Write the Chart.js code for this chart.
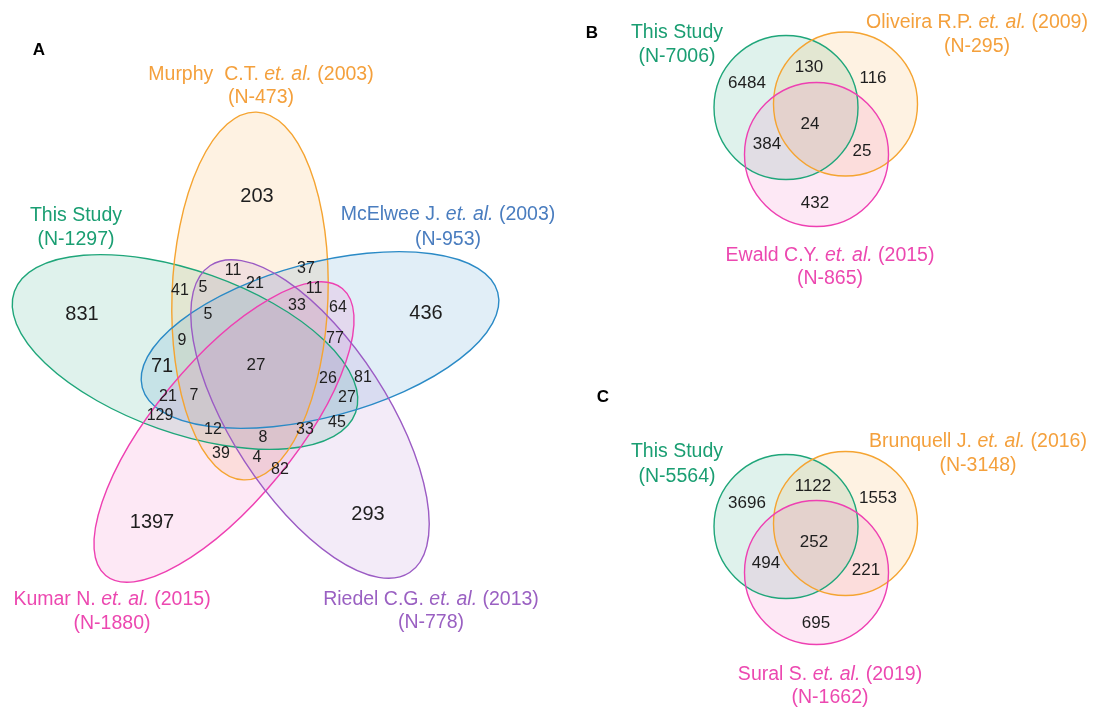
<!DOCTYPE html>
<html>
<head>
<meta charset="utf-8">
<title>Gene set overlaps</title>
<script src="https://cdn.jsdelivr.net/npm/chart.js@4/dist/chart.umd.min.js"></script>
<style>
  html, body { margin: 0; padding: 0; background: #ffffff; }
  canvas { display: block; }
</style>
</head>
<body>
<canvas id="venn" width="1096" height="709"></canvas>
<script>
// ---- Data -------------------------------------------------------------
// Panel A: five gene sets
const panelAStudies = ['This Study', 'Murphy  C.T.', 'McElwee J.', 'Kumar N.', 'Riedel C.G.'];
const panelAYears   = ['', '2003', '2003', '2015', '2013'];
const panelASizes   = [1297, 473, 953, 1880, 778];
const panelACounts  = [831, 203, 436, 1397, 293, 71,
                       11, 37, 41, 5, 21, 11, 33, 64, 5, 9, 77, 27, 26, 81,
                       21, 7, 27, 129, 12, 33, 45, 8, 39, 4, 82];

// Panel B: three gene sets
const panelBStudies = ['This Study', 'Oliveira R.P.', 'Ewald C.Y.'];
const panelBYears   = ['', '2009', '2015'];
const panelBSizes   = [7006, 295, 865];
const panelBCounts  = [6484, 130, 116, 24, 384, 25, 432];

// Panel C: three gene sets
const panelCStudies = ['This Study', 'Brunquell J.', 'Sural S.'];
const panelCYears   = ['', '2016', '2019'];
const panelCSizes   = [5564, 3148, 1662];
const panelCCounts  = [3696, 1122, 1553, 252, 494, 221, 695];

// ---- Layout (positions, sizes, styles) --------------------------------
const FONT = '"Liberation Sans", Arial, Helvetica, sans-serif';

const palette = {
  green:  { stroke: '#1fa67a', fill: 'rgba(31,166,122,0.14)',  text: '#1a9e72' },
  orange: { stroke: '#f5a431', fill: 'rgba(247,166,50,0.14)',  text: '#f4a03c' },
  blue:   { stroke: '#2a8ac6', fill: 'rgba(42,138,198,0.14)',  text: '#4a7dbf' },
  pink:   { stroke: '#ee40b2', fill: 'rgba(240,63,176,0.12)',  text: '#ec48b0' },
  purple: { stroke: '#9b5bc4', fill: 'rgba(155,91,196,0.12)',  text: '#9a60c2' }
};

// ellipse outlines in chart units (cx, cy, rx, ry, rotation in degrees)
const shapesA = [
  { c: 'green',  cx: 185, cy: 352, rx: 181, ry: 81,  rot: 19.5 },
  { c: 'orange', cx: 250, cy: 296, rx: 78,  ry: 184, rot: 2 },
  { c: 'blue',   cx: 320, cy: 340, rx: 184, ry: 77,  rot: -15 },
  { c: 'pink',   cx: 224, cy: 432, rx: 186, ry: 70,  rot: -50.5 },
  { c: 'purple', cx: 310, cy: 419, rx: 183, ry: 78,  rot: 57 }
];
const shapesB = [
  { c: 'green',  cx: 786,   cy: 107.5, rx: 72, ry: 72, rot: 0 },
  { c: 'orange', cx: 845.5, cy: 104,   rx: 72, ry: 72, rot: 0 },
  { c: 'pink',   cx: 816.5, cy: 154.5, rx: 72, ry: 72, rot: 0 }
];
const shapesC = [
  { c: 'green',  cx: 786,   cy: 526.5, rx: 72, ry: 72, rot: 0 },
  { c: 'orange', cx: 845.5, cy: 523.5, rx: 72, ry: 72, rot: 0 },
  { c: 'pink',   cx: 816.5, cy: 572.5, rx: 72, ry: 72, rot: 0 }
];

// where each region count sits, and its type size
const countPosA = [
  [82, 314, 20], [257, 196, 20], [426, 313, 20], [152, 522, 20], [368, 514, 20], [162, 366, 20],
  [233, 271, 16], [306, 269, 16], [180, 291, 16], [203, 288, 16], [255, 284, 16], [314, 289, 16],
  [297, 306, 16], [338, 308, 16], [208, 315, 16], [182, 341, 16], [335, 339, 16], [256, 365, 17],
  [328, 379, 16], [363, 378, 16], [168, 397, 16], [194, 396, 16], [347, 398, 16], [160, 416, 16],
  [213, 430, 16], [305, 430, 16], [337, 423, 16], [263, 438, 16], [221, 454, 16], [257, 458, 16],
  [280, 470, 16]
];
const countPosB = [[747, 83], [809, 67], [873, 78], [810, 124], [767, 144], [862, 151], [815, 203]];
const countPosC = [[747, 503], [813, 486], [878, 498], [814, 542], [766, 563], [866, 570], [816, 623]];

// set captions: centre x, first-line y, second-line y, colour
const captionPosA = [
  [76, 216, 240, 'green'], [261, 75, 98, 'orange'], [448, 215, 240, 'blue'],
  [112, 600, 624, 'pink'], [431, 600, 623, 'purple']
];
const captionPosB = [[677, 33, 57, 'green'], [977, 23, 47, 'orange'], [830, 256, 279, 'pink']];
const captionPosC = [[677, 452, 477, 'green'], [978, 442, 466, 'orange'], [830, 675, 698, 'pink']];

const panelLetters = [['A', 39, 50], ['B', 592, 33], ['C', 603, 397]];

// ---- Datasets built from the arrays -----------------------------------
function countPoints(counts, pos, size) {
  return counts.map((v, i) => ({ x: pos[i][0], y: pos[i][1], v: v, s: pos[i][2] || size }));
}

const panels = [
  { shapes: shapesA, studies: panelAStudies, years: panelAYears, sizes: panelASizes, caps: captionPosA },
  { shapes: shapesB, studies: panelBStudies, years: panelBYears, sizes: panelBSizes, caps: captionPosB },
  { shapes: shapesC, studies: panelCStudies, years: panelCYears, sizes: panelCSizes, caps: captionPosC }
];

function drawRuns(ctx, runs, cx, cy, size, color) {
  ctx.fillStyle = color;
  ctx.textBaseline = 'middle';
  ctx.textAlign = 'left';
  let total = 0;
  runs.forEach(r => {
    ctx.font = (r.italic ? 'italic ' : '') + size + 'px ' + FONT;
    r.w = ctx.measureText(r.t).width;
    total += r.w;
  });
  let x = cx - total / 2;
  runs.forEach(r => {
    ctx.font = (r.italic ? 'italic ' : '') + size + 'px ' + FONT;
    ctx.fillText(r.t, x, cy);
    x += r.w;
  });
}

const vennPlugin = {
  id: 'vennShapes',
  beforeDatasetsDraw(chart) {
    const ctx = chart.ctx;
    const xs = chart.scales.x, ys = chart.scales.y;
    ctx.save();
    panels.forEach(p => {
      const geo = p.shapes.map(s => {
        const cx = xs.getPixelForValue(s.cx);
        const cy = ys.getPixelForValue(s.cy);
        const rx = Math.abs(xs.getPixelForValue(s.cx + s.rx) - cx);
        const ry = Math.abs(ys.getPixelForValue(s.cy + s.ry) - cy);
        return { cx, cy, rx, ry, rot: s.rot * Math.PI / 180, col: palette[s.c] };
      });
      geo.forEach(g => {
        ctx.beginPath();
        ctx.ellipse(g.cx, g.cy, g.rx, g.ry, g.rot, 0, Math.PI * 2);
        ctx.fillStyle = g.col.fill;
        ctx.fill();
      });
      geo.forEach(g => {
        ctx.beginPath();
        ctx.ellipse(g.cx, g.cy, g.rx, g.ry, g.rot, 0, Math.PI * 2);
        ctx.strokeStyle = g.col.stroke;
        ctx.lineWidth = 1.4;
        ctx.stroke();
      });
    });
    ctx.restore();
  },
  afterDatasetsDraw(chart) {
    const ctx = chart.ctx;
    const xs = chart.scales.x, ys = chart.scales.y;
    ctx.save();
    // region counts
    chart.data.datasets.forEach((ds, di) => {
      const meta = chart.getDatasetMeta(di);
      meta.data.forEach((el, i) => {
        const d = ds.data[i];
        ctx.font = d.s + 'px ' + FONT;
        ctx.fillStyle = '#1e1e1e';
        ctx.textAlign = 'center';
        ctx.textBaseline = 'middle';
        ctx.fillText(String(d.v), el.x, el.y);
      });
    });
    // set captions
    panels.forEach(p => {
      p.studies.forEach((name, i) => {
        const cp = p.caps[i];
        const cx = xs.getPixelForValue(cp[0]);
        const y1 = ys.getPixelForValue(cp[1]);
        const y2 = ys.getPixelForValue(cp[2]);
        const color = palette[cp[3]].text;
        const runs = p.years[i]
          ? [{ t: name + ' ' }, { t: 'et. al.', italic: true }, { t: ' (' + p.years[i] + ')' }]
          : [{ t: name }];
        drawRuns(ctx, runs, cx, y1, 19.5, color);
        drawRuns(ctx, [{ t: '(N-' + p.sizes[i] + ')' }], cx, y2, 19.5, color);
      });
    });
    // panel letters
    panelLetters.forEach(l => {
      ctx.font = 'bold 17px ' + FONT;
      ctx.fillStyle = '#000000';
      ctx.textAlign = 'center';
      ctx.textBaseline = 'middle';
      ctx.fillText(l[0], xs.getPixelForValue(l[1]), ys.getPixelForValue(l[2]));
    });
    ctx.restore();
  }
};

new Chart(document.getElementById('venn'), {
  type: 'scatter',
  data: {
    datasets: [
      { label: 'A', data: countPoints(panelACounts, countPosA, 16), pointRadius: 0, pointHoverRadius: 0 },
      { label: 'B', data: countPoints(panelBCounts, countPosB, 17), pointRadius: 0, pointHoverRadius: 0 },
      { label: 'C', data: countPoints(panelCCounts, countPosC, 17), pointRadius: 0, pointHoverRadius: 0 }
    ]
  },
  options: {
    responsive: false,
    devicePixelRatio: 1,
    animation: false,
    events: [],
    layout: { padding: 0 },
    plugins: { legend: { display: false }, tooltip: { enabled: false }, title: { display: false } },
    scales: {
      x: { type: 'linear', min: 0, max: 1096, display: false },
      y: { type: 'linear', min: 0, max: 709, reverse: true, display: false }
    }
  },
  plugins: [vennPlugin]
});
</script>
</body>
</html>
